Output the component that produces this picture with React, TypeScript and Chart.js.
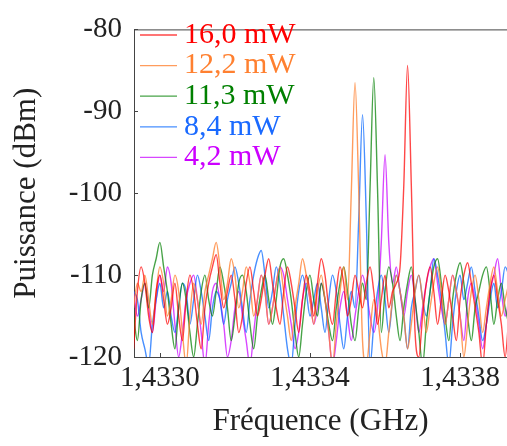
import React, { useEffect, useRef } from "react";
import { Chart, registerables } from "chart.js";

Chart.register(...registerables);

// Frequency grid (GHz): 101 samples, 10 kHz apart
const FREQ_START = 1.43293;
const FREQ_STEP = 0.00001;
const FREQ_COUNT = 101;

const X_TICKS = [1.433, 1.4334, 1.4338];
const Y_TICKS = [-120, -110, -100, -90, -80];

const LABELS = ["16,0 mW", "12,2 mW", "11,3 mW", "8,4 mW", "4,2 mW"];
const LINE_COLORS = [
  "rgba(255,0,0,0.72)",
  "rgba(255,128,48,0.78)",
  "rgba(0,128,0,0.72)",
  "rgba(0,100,255,0.72)",
  "rgba(200,0,255,0.72)",
];
const TEXT_COLORS = ["#ff0000", "#ff8030", "#008000", "#1a6aff", "#cc00ff"];

const P16_0 = [
  -119, -112, -109, -111, -115, -117, -112, -110, -113, -116,
  -114, -111, -115, -118, -113, -110, -112, -116, -119, -114,
  -111, -109, -107.5, -111, -114, -112, -110, -113, -117, -115,
  -111, -109, -112, -115, -113, -110, -108, -111, -114, -116,
  -112, -109, -111, -114, -117, -113, -110, -112, -115, -111,
  -108, -110, -114, -116, -112, -109, -111, -115, -113, -110,
  -112, -114, -111, -109, -112, -116, -113, -110, -114, -112,
  -111, -109, -99, -84.4, -99, -117, -120, -115, -111, -109,
  -112, -116, -113, -110, -112, -115, -118, -113, -110, -108.5,
  -111, -114, -117, -121, -116, -112, -110, -113, -116, -120,
  -115,
];

const P12_2 = [
  -114, -111, -112, -110, -113, -116, -112, -109, -111, -115,
  -113, -110, -112, -117, -121, -115, -111, -113, -116, -112,
  -110, -108, -106, -109, -113, -111, -108, -110, -114, -112,
  -109, -111, -115, -113, -110, -112, -116, -114, -111, -109,
  -112, -115, -118, -114, -111, -108, -110, -113, -116, -112,
  -110, -113, -117, -121, -116, -112, -109, -113, -100, -86.5,
  -100, -118, -121, -117, -113, -115, -119, -121, -117, -113,
  -110, -112, -115, -119, -116, -112, -110, -113, -117, -114,
  -111, -109, -112, -116, -113, -110, -112, -115, -120, -116,
  -112, -110, -113, -117, -114, -111, -109, -112, -115, -113,
  -111,
];

const P11_3 = [
  -115, -118, -113, -111, -114, -110, -108, -106, -109, -112,
  -116, -119, -114, -111, -113, -117, -120, -116, -112, -110,
  -113, -115, -112, -109, -111, -114, -118, -115, -111, -110,
  -112, -116, -119, -115, -112, -110, -113, -116, -113, -109,
  -108, -110, -113, -117, -120, -116, -112, -110, -113, -115,
  -111, -113, -116, -118, -114, -111, -109, -112, -116, -118,
  -114, -111, -113, -99.5, -85.9, -99.5, -117, -112, -109, -111,
  -115, -118, -114, -111, -109, -113, -117, -121, -116, -112,
  -109, -108, -111, -115, -118, -113, -110, -108.5, -111, -115,
  -118, -114, -112, -110, -109, -112, -116, -113, -111, -114,
  -116,
];

const P8_4 = [
  -112, -113, -117, -119, -121, -116, -113, -111, -114, -112,
  -115, -117, -114, -111, -112, -116, -113, -110, -112, -115,
  -118, -114, -112, -113, -116, -113, -111, -109, -111, -114,
  -117, -113, -110, -108, -107, -110, -114, -112, -109, -111,
  -115, -119, -121, -116, -112, -110, -112, -115, -113, -111,
  -114, -117, -113, -110, -112, -116, -119, -115, -112, -114,
  -103, -90.4, -103, -121, -116, -112, -110, -113, -117, -113,
  -110, -112, -115, -119, -114, -112, -110, -113, -115, -112,
  -108, -110, -113, -117, -121, -116, -112, -110, -113, -111,
  -109, -112, -115, -118, -116, -113, -111, -114, -112, -109,
  -110,
];

const P4_2 = [
  -112, -115, -113, -111, -114, -117, -113, -110, -112, -109,
  -111, -116, -120, -117, -113, -111, -110, -113, -117, -121,
  -116, -112, -111, -113, -116, -120, -118, -114, -112, -115,
  -118, -121, -117, -113, -110, -112, -116, -114, -111, -109,
  -110, -113, -116, -119, -117, -113, -111, -113, -116, -114,
  -111, -113, -117, -121, -118, -114, -112, -115, -118, -115,
  -112, -110, -112, -115, -117, -114, -106, -95.3, -106, -111,
  -109, -112, -115, -112, -110, -113, -117, -114, -111, -109,
  -108, -111, -114, -116, -113, -110, -112, -115, -118, -113,
  -111, -113, -116, -119, -116, -112, -110, -108, -112, -115,
  -113,
];

const SERIES = [P16_0, P12_2, P11_3, P8_4, P4_2];

const FONT = "'Liberation Serif', 'Times New Roman', serif";

const fmtComma = (v: number, d: number) => v.toFixed(d).replace(".", ",");

export default function App() {
  const ref = useRef<HTMLCanvasElement | null>(null);

  useEffect(() => {
    if (!ref.current) return;
    const freqs: number[] = [];
    for (let i = 0; i < FREQ_COUNT; i++) freqs.push(FREQ_START + i * FREQ_STEP);

    const datasets = SERIES.map((s, i) => ({
      label: LABELS[i],
      data: s.map((y, k) => ({ x: freqs[k], y })),
      borderColor: LINE_COLORS[i],
      backgroundColor: LINE_COLORS[i],
      borderWidth: 1.4,
      pointRadius: 0,
      cubicInterpolationMode: "monotone" as const,
      fill: false,
    }));

    const framePlugin = {
      id: "frame",
      afterDraw(chart: any) {
        const { ctx, chartArea } = chart;
        const { left, top, right, bottom } = chartArea;
        const xs = chart.scales.x;
        const ys = chart.scales.y;
        ctx.save();
        ctx.strokeStyle = "#444";
        ctx.lineWidth = 1;
        ctx.beginPath();
        ctx.moveTo(left, top + 0.5);
        ctx.lineTo(right, top + 0.5);
        // inward ticks
        X_TICKS.forEach((v) => {
          const px = Math.round(xs.getPixelForValue(v)) + 0.5;
          ctx.moveTo(px, bottom);
          ctx.lineTo(px, bottom - 4);
        });
        Y_TICKS.forEach((v) => {
          const py = Math.round(ys.getPixelForValue(v)) + 0.5;
          ctx.moveTo(left, py);
          ctx.lineTo(left + 4, py);
        });
        ctx.stroke();

        // legend
        ctx.font = `30px ${FONT}`;
        ctx.textBaseline = "middle";
        ctx.textAlign = "left";
        LABELS.forEach((lab, i) => {
          const y = 34 + i * 30.6;
          ctx.strokeStyle = LINE_COLORS[i];
          ctx.lineWidth = 1.3;
          ctx.beginPath();
          ctx.moveTo(140, y + 1);
          ctx.lineTo(177, y + 1);
          ctx.stroke();
          ctx.fillStyle = TEXT_COLORS[i];
          ctx.fillText(lab, 184, y + 1);
        });
        ctx.restore();
      },
    };

    const chart = new Chart(ref.current, {
      type: "line",
      data: { datasets },
      options: {
        animation: false,
        responsive: false,
        layout: { padding: { top: 17, right: 0, left: 0, bottom: 0 } },
        plugins: { legend: { display: false }, tooltip: { enabled: false } },
        scales: {
          x: {
            type: "linear",
            min: 1.432931,
            max: 1.433925,
            afterBuildTicks: (scale: any) => {
              scale.ticks = X_TICKS.map((v) => ({ value: v }));
            },
            afterFit: (scale: any) => {
              scale.height = 89;
            },
            ticks: {
              callback: (v: any) => fmtComma(Number(v), 4),
              font: { family: FONT, size: 29 },
              color: "#222",
              padding: 4,
              maxRotation: 0,
              autoSkip: false,
            },
            grid: { display: true, drawOnChartArea: false, drawTicks: false },
            border: { display: true, color: "#444", width: 1 },
            title: {
              display: true,
              text: "Fréquence (GHz)",
              font: { family: FONT, size: 31 },
              color: "#222",
              padding: { top: 0, bottom: 6 },
            },
          },
          y: {
            min: -120,
            max: -80,
            afterBuildTicks: (scale: any) => {
              scale.ticks = Y_TICKS.map((v) => ({ value: v }));
            },
            afterFit: (scale: any) => {
              scale.width = 134;
            },
            ticks: {
              callback: (v: any) => String(v),
              font: { family: FONT, size: 29 },
              color: "#222",
              padding: 12,
            },
            grid: { display: true, drawOnChartArea: false, drawTicks: false },
            border: { display: true, color: "#444", width: 1 },
            title: {
              display: true,
              text: "Puissance (dBm)",
              font: { family: FONT, size: 31 },
              color: "#222",
              padding: { top: 8, bottom: 0 },
            },
          },
        },
      },
      plugins: [framePlugin],
    });
    return () => chart.destroy();
  }, []);

  return (
    <div style={{ position: "absolute", left: 0, top: 0, width: 507, height: 446, background: "#fff" }}>
      <canvas ref={ref} width={507} height={446} style={{ display: "block" }} />
    </div>
  );
}
